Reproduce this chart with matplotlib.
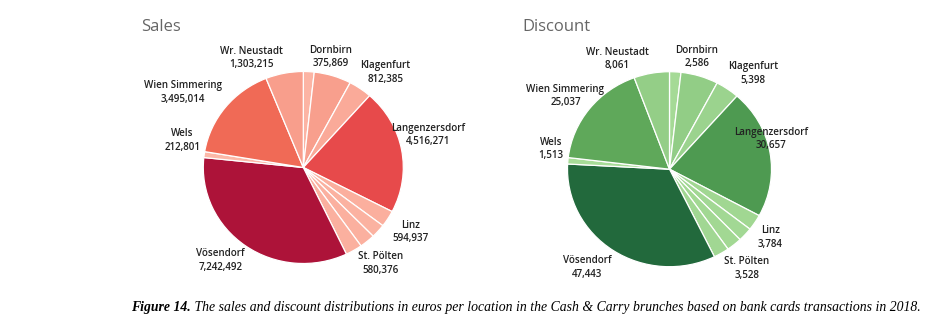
import matplotlib
matplotlib.use("Agg")
import matplotlib.pyplot as plt
from matplotlib.colors import LinearSegmentedColormap

# Locations in the order Tableau draws them (clockwise from 12 o'clock).
# Unnamed entries are small branches that carry no label on the chart.
locations = ["Dornbirn", "", "Klagenfurt", "Langenzersdorf", "Linz", "", "",
             "St. Pölten", "Vösendorf", "Wels", "Wien Simmering", "Wr. Neustadt"]
sales = [375869, 1290000, 812385, 4516271, 594937, 500000, 540000,
         580376, 7242492, 212801, 3495014, 1303215]
discount = [2586, 8500, 5398, 30657, 3784, 3300, 3500,
            3528, 47443, 1513, 25037, 8061]

# label anchors in units of the pie radius
sales_label_pos = {
    "Dornbirn": (0.27, 1.15), "Klagenfurt": (0.82, 0.99),
    "Langenzersdorf": (1.25, 0.34), "Linz": (1.07, -0.67),
    "St. Pölten": (0.77, -1.00), "Vösendorf": (-0.83, -0.97),
    "Wels": (-1.21, 0.28), "Wien Simmering": (-1.20, 0.78),
    "Wr. Neustadt": (-0.52, 1.14),
}
discount_label_pos = {
    "Dornbirn": (0.27, 1.15), "Klagenfurt": (0.82, 0.98),
    "Langenzersdorf": (1.00, 0.31), "Linz": (0.99, -0.70),
    "St. Pölten": (0.76, -1.02), "Vösendorf": (-0.81, -1.01),
    "Wels": (-1.16, 0.21), "Wien Simmering": (-1.02, 0.75),
    "Wr. Neustadt": (-0.51, 1.13),
}

reds = LinearSegmentedColormap.from_list(
    "reds", [(0, "#fdbdad"), (0.48, "#f06b56"), (0.62, "#e84b4b"), (1.0, "#ad1339")])
greens = LinearSegmentedColormap.from_list(
    "greens", [(0, "#acdf9c"), (0.53, "#5fa85a"), (0.65, "#4e9a51"), (1.0, "#22693c")])

W, H = 934, 328
fig = plt.figure(figsize=(W / 100, H / 100), dpi=100)
fig.patch.set_facecolor("white")

LIM = 1.6
font = "Open Sans"


def draw_pie(values, cmap, cx, cy, rx, ry, label_pos, title, title_x):
    # axes sized in pixels so the pie lands at (cx, cy) with radii rx/ry
    aw, ah = 2 * LIM * rx, 2 * LIM * ry
    ax = fig.add_axes([(cx - aw / 2) / W, (H - cy - ah / 2) / H, aw / W, ah / H])
    vmax = max(values)
    colors = [cmap(v / vmax) for v in values]
    ax.pie(values, colors=colors, startangle=90, counterclock=False,
           wedgeprops=dict(edgecolor="white", linewidth=0.9))
    ax.set_aspect("auto")
    ax.set_xlim(-LIM, LIM)
    ax.set_ylim(-LIM, LIM)
    ax.axis("off")
    for name, v in zip(locations, values):
        if not name:
            continue
        x, y = label_pos[name]
        ax.text(x, y, f"{name}\n{v:,}", ha="center", va="center",
                fontsize=7.1, color="#222222", family=font, fontweight="semibold",
                linespacing=1.3)
    fig.text(title_x / W, (H - 31) / H, title, fontsize=12, color="#666666",
             family=font, va="baseline", ha="left")


draw_pie(sales, reds, 303.3, 167.5, 100, 96, sales_label_pos, "Sales", 141)
draw_pie(discount, greens, 669.5, 169.2, 102, 97.5, discount_label_pos, "Discount", 522)

# caption with bold lead-in
cap = fig.text(131 / W, (H - 311) / H, "Figure 14.", fontsize=9.9,
               family="Liberation Serif", style="italic", weight="bold",
               va="baseline", ha="left")
plt.annotate(" The sales and discount distributions in euros per location in the "
             "Cash & Carry brunches based on bank cards transactions in 2018.",
             xy=(1, 0), xycoords=cap, fontsize=9.9, family="Liberation Serif",
             style="italic", va="bottom", ha="left", annotation_clip=False)

fig.savefig("out.png", dpi=100, facecolor="white")
